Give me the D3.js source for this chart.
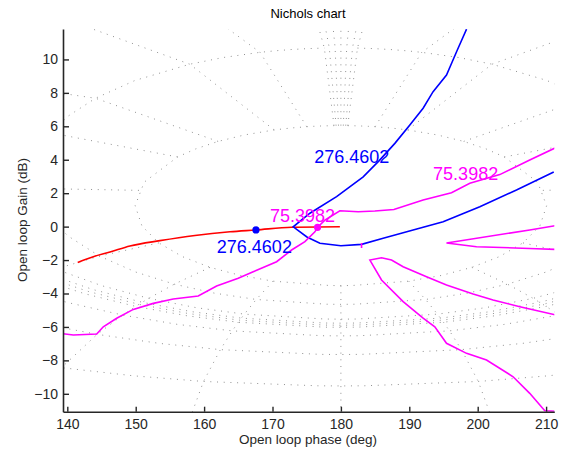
<!DOCTYPE html>
<html>
<head>
<meta charset="utf-8">
<script src="https://cdn.jsdelivr.net/npm/d3@7"></script>
<style>
body { margin: 0; background: #fff; }
text { font-family: "Liberation Sans", Arial, Helvetica, sans-serif; }
</style>
</head>
<body>
<svg id="chart" width="565" height="455"></svg>
<script>
// open loop curves, [phase (deg), gain (dB)]
var redLine = [[141.52,-2.14],[143.80,-1.80],[146.24,-1.52],[149.16,-1.16],[153.55,-0.84],[158.66,-0.53],[163.78,-0.31],[167.58,-0.20],[172.79,-0.04],[179.85,-0.01]];
var blueLine = [[198.37,11.81],[196.91,10.46],[195.44,9.07],[193.48,8.07],[192.02,7.08],[190.08,6.08],[187.89,4.98],[185.6,3.95],[183.26,2.98],[179.37,1.79],[175.47,0.80],[173.03,-0.01],[175.03,-0.62],[176.93,-1.00],[180.0,-1.14],[183.02,-1.06],[186.18,-0.70],[190.56,-0.20],[194.95,0.29],[200.31,1.19],[205.67,2.19],[211.12,3.27]];
var magentaA = [[139.2,-6.40],[140.88,-6.48],[144.30,-6.42],[145.26,-5.99],[147.22,-5.48],[149.65,-4.95],[152.57,-4.59],[155.49,-4.33],[159.14,-4.15],[161.83,-3.55],[164.99,-3.09],[167.18,-2.70],[170.60,-2.10],[172.79,-1.40],[174.74,-0.90],[176.20,-0.31],[176.59,-0.04],[177.66,0.39],[179.85,0.95],[182.53,0.89],[184.97,0.93],[187.75,1.02],[192.02,1.59],[196.17,2.03],[198.85,2.59],[203.23,3.11],[207.61,3.98],[211.3,4.70]];
var magentaB = [[211.3,0.05],[207.61,-0.20],[195.44,-0.98],[199.83,-1.20],[208.6,-1.32],[211.3,-1.36]];
var magentaC = [[211.3,-11.05],[209.81,-11.01],[207.61,-9.97],[205.18,-8.98],[201.29,-7.98],[198.37,-7.58],[195.44,-6.98],[193.73,-5.99],[192.02,-5.48],[189.10,-4.49],[185.94,-3.19],[184.24,-2.00],[185.94,-1.86],[187.40,-2.00],[189.10,-2.40],[192.52,-3.00],[195.44,-3.49],[199.33,-4.03],[202.25,-4.39],[206.16,-4.79],[211.3,-5.27]];
var magentaTick = [[183.02,-0.98],[183.02,-1.28]];

// marked frequencies
var markers = [
  { phase: 167.58, gain: -0.20, color: "#0000ff" },
  { phase: 176.59, gain: -0.04, color: "#ff00ff" }
];
var labels = [
  { text: "276.4602", phase: 176.09, gain: 3.80, color: "#0000ff" },
  { text: "276.4602", phase: 161.86, gain: -1.58, color: "#0000ff" },
  { text: "75.3982", phase: 169.62, gain: 0.25, color: "#ff00ff" },
  { text: "75.3982", phase: 193.48, gain: 2.79, color: "#ff00ff" }
];

var xTicks = [140, 150, 160, 170, 180, 190, 200, 210];
var yTicks = [-10, -8, -6, -4, -2, 0, 2, 4, 6, 8, 10];

// Nichols grid: closed loop gains (dB) and closed loop phases (deg)
var gridGains = [6, 3, 1, 0.5, 0.25, 0, -1, -3, -6, -12, -20];
var gridPhases = [0, 0.35, 0.7, 1, 5, 10, 20, 30, 50, 90, 120, 150, 180];
var sweep = [1, 2, 3, 4, 5, 7.5, 10, 15, 20, 25, 30, 45, 60, 75, 90, 105, 120, 135, 150, 175, 180];

var svg = d3.select("#chart");
var padL = 63, padR = 554.3, padT = 29, padB = 411.7;

var x = d3.scaleLinear().domain([139.37, 211.2]).range([padL, padR]);
var y = d3.scaleLinear().domain([-11.07, 11.82]).range([padB, padT]);

svg.append("defs").append("clipPath").attr("id", "plot")
  .append("rect").attr("x", padL).attr("y", padT)
  .attr("width", padR - padL).attr("height", padB - padT);

// open loop point for closed loop gain m (dB) and phase p (deg)
function openLoop(mDb, p) {
  var m = Math.pow(10, mDb / 20);
  var r = p * Math.PI / 180;
  var dr = 1 - m * Math.cos(r), di = m * Math.sin(r);
  var g = m / Math.sqrt(dr * dr + di * di);
  var ph = -p - Math.atan2(di, dr) * 180 / Math.PI + 360;
  return [ph, 20 * Math.log10(g)];
}

var fullSweep = sweep.concat(sweep.slice(0, -1).reverse().map(function(p) { return 360 - p; }));
var gridLines = [];
gridGains.forEach(function(m) {
  gridLines.push(fullSweep.map(function(p) { return openLoop(m, p); }));
});
gridPhases.forEach(function(p) {
  // phase 0 only exists above the critical point
  var gains = p === 0 ? gridGains.filter(function(m) { return m > 0; }) : gridGains;
  gridLines.push(gains.map(function(m) { return openLoop(m, p); }));
  if (p !== 180 && p !== 0) gridLines.push(gains.map(function(m) { return openLoop(m, 360 - p); }));
});

var line = d3.line()
  .defined(function(d) { return isFinite(d[0]) && isFinite(d[1]); })
  .x(function(d) { return x(d[0]); })
  .y(function(d) { return y(d[1]); });

var plot = svg.append("g").attr("clip-path", "url(#plot)");

plot.selectAll("path.grid")
  .data(gridLines)
  .enter()
  .append("path")
  .attr("class", "grid")
  .attr("d", line)
  .attr("fill", "none")
  .attr("stroke", "#909090")
  .attr("stroke-width", 1)
  .attr("stroke-dasharray", "1,5.7");

var curves = [
  { pts: redLine, color: "#ff0000", curve: d3.curveMonotoneX },
  { pts: blueLine, color: "#0000ff" },
  { pts: magentaA, color: "#ff00ff" },
  { pts: magentaB, color: "#ff00ff" },
  { pts: magentaC, color: "#ff00ff" },
  { pts: magentaTick, color: "#ff00ff" }
];

plot.selectAll("path.curve")
  .data(curves)
  .enter()
  .append("path")
  .attr("class", "curve")
  .attr("d", function(d) { return line.curve(d.curve || d3.curveLinear)(d.pts); })
  .attr("fill", "none")
  .attr("stroke", function(d) { return d.color; })
  .attr("stroke-width", 1.6);

plot.selectAll("circle")
  .data(markers)
  .enter()
  .append("circle")
  .attr("cx", function(d) { return x(d.phase); })
  .attr("cy", function(d) { return y(d.gain); })
  .attr("r", 3.6)
  .attr("fill", function(d) { return d.color; });

svg.selectAll("text.lbl")
  .data(labels)
  .enter()
  .append("text")
  .attr("class", "lbl")
  .attr("x", function(d) { return x(d.phase); })
  .attr("y", function(d) { return y(d.gain); })
  .attr("fill", function(d) { return d.color; })
  .attr("font-size", 18)
  .text(function(d) { return d.text; });

// axes
var yAxis = svg.append("g")
  .attr("transform", "translate(" + padL + ",0)")
  .call(d3.axisLeft(y).tickValues(yTicks).tickSizeInner(-6).tickSizeOuter(0).tickPadding(5));
var xAxis = svg.append("g")
  .attr("transform", "translate(0," + padB + ")")
  .call(d3.axisBottom(x).tickValues(xTicks).tickSizeInner(-5).tickSizeOuter(0).tickPadding(7));

[xAxis, yAxis].forEach(function(a) {
  a.select(".domain").attr("stroke", "#262626").attr("stroke-width", 1.6);
  a.selectAll(".tick line").attr("stroke", "#262626").attr("stroke-width", 1.4);
  a.selectAll(".tick text").attr("fill", "#262626").attr("font-size", 14)
    .attr("font-family", "'Liberation Sans', Arial, sans-serif");
});

svg.append("text")
  .attr("x", 308).attr("y", 18)
  .attr("text-anchor", "middle").attr("font-size", 13).attr("fill", "#000")
  .text("Nichols chart");

svg.append("text")
  .attr("x", 308).attr("y", 444)
  .attr("text-anchor", "middle").attr("font-size", 13.5).attr("fill", "#262626")
  .text("Open loop phase (deg)");

svg.append("text")
  .attr("transform", "translate(27,220) rotate(-90)")
  .attr("text-anchor", "middle").attr("font-size", 13.5).attr("fill", "#262626")
  .text("Open loop Gain (dB)");
</script>
</body>
</html>
